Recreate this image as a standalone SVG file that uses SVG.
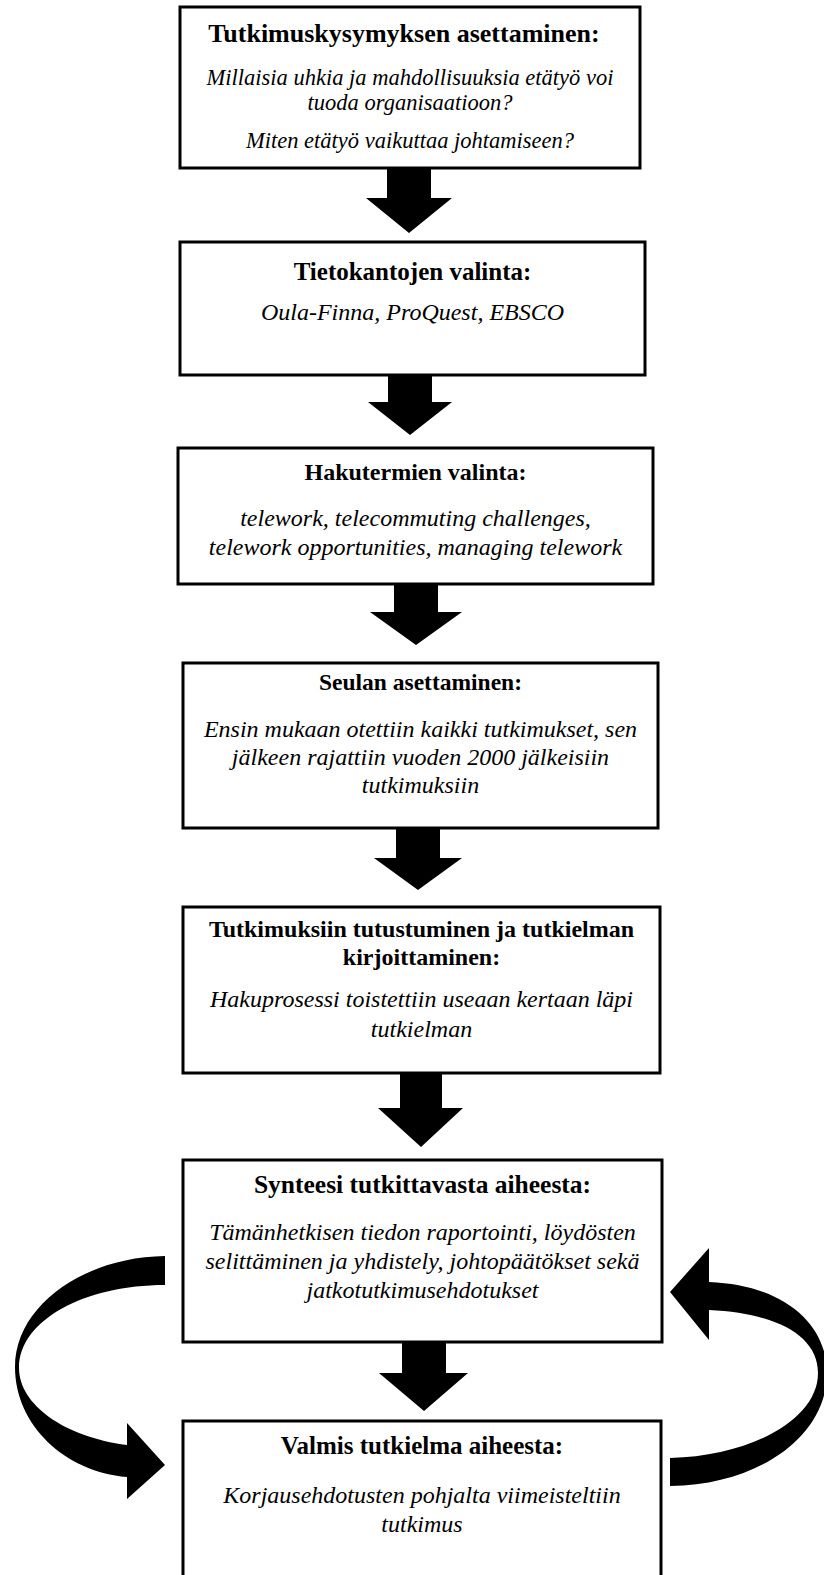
<svg xmlns="http://www.w3.org/2000/svg" width="824" height="1575" viewBox="0 0 824 1575">
<style>
.box{fill:#fff;stroke:#000;stroke-width:3}
.t{font-family:"Liberation Serif","Times New Roman",serif;font-weight:bold;font-size:25px;text-anchor:middle;fill:#000}
.i{font-family:"Liberation Serif","Times New Roman",serif;font-style:italic;font-size:24px;text-anchor:middle;fill:#000}
.s{font-size:22.5px}
.arr{fill:#000}
</style>
<rect width="824" height="1575" fill="#fff"/>
<g id="connectors">
<path class="arr" d="M387,168 H431 V198 H452 L409,233 L366,198 H387 Z"/>
<path class="arr" d="M388,375 H432 V402 H452 L410,435 L368,402 H388 Z"/>
<path class="arr" d="M394,584 H438 V612 H462 L416,645 L370,612 H394 Z"/>
<path class="arr" d="M396,828 H440 V858 H462 L418,890 L374,858 H396 Z"/>
<path class="arr" d="M400,1073 H442 V1108 H463 L421,1147 L378,1108 H400 Z"/>
<path class="arr" d="M402,1342 H446 V1373 H468 L424,1411 L379,1373 H402 Z"/>
<path class="arr" d="M165,1256 C85,1257 15,1305 15,1367 C15,1425 65,1472 127,1477 L127,1499 L165,1465 L127,1423 L127,1445 C65,1437 19,1405 19,1368 C19,1320 85,1285 165,1285 Z"/>
<path class="arr" d="M670,1458 C750,1456 818,1420 818,1373 C818,1335 775,1313 709,1310 L709,1340 L670,1292 L709,1248 L709,1282 C785,1285 827,1325 827,1373 C827,1435 760,1485 670,1486 Z"/>
</g>
<g id="n1">
<rect class="box" x="180" y="7" width="460" height="161"/>
<text class="t" x="404" y="42" style="font-size:26px">Tutkimuskysymyksen asettaminen:</text>
<text class="i s" x="410" y="84.5">Millaisia uhkia ja mahdollisuuksia etätyö voi</text>
<text class="i s" x="410" y="109.5">tuoda organisaatioon?</text>
<text class="i s" x="410" y="148">Miten etätyö vaikuttaa johtamiseen?</text>
</g>
<g id="n2">
<rect class="box" x="180" y="242" width="465" height="133"/>
<text class="t" x="412.5" y="280">Tietokantojen valinta:</text>
<text class="i" x="412.5" y="320">Oula-Finna, ProQuest, EBSCO</text>
</g>
<g id="n3">
<rect class="box" x="178" y="448" width="475" height="136"/>
<text class="t" x="415.5" y="480" style="font-size:24px">Hakutermien valinta:</text>
<text class="i" x="415.5" y="526">telework, telecommuting challenges,</text>
<text class="i" x="415.5" y="555">telework opportunities, managing telework</text>
</g>
<g id="n4">
<rect class="box" x="183" y="663" width="475" height="165"/>
<text class="t" x="420.5" y="690" style="font-size:23.5px">Seulan asettaminen:</text>
<text class="i" x="420.5" y="737">Ensin mukaan otettiin kaikki tutkimukset, sen</text>
<text class="i" x="420.5" y="765">jälkeen rajattiin vuoden 2000 jälkeisiin</text>
<text class="i" x="420.5" y="793">tutkimuksiin</text>
</g>
<g id="n5">
<rect class="box" x="183" y="907" width="477" height="166"/>
<text class="t" x="421.5" y="937" style="font-size:24px">Tutkimuksiin tutustuminen ja tutkielman</text>
<text class="t" x="421.5" y="965" style="font-size:24px">kirjoittaminen:</text>
<text class="i" x="421.5" y="1007">Hakuprosessi toistettiin useaan kertaan läpi</text>
<text class="i" x="421.5" y="1037">tutkielman</text>
</g>
<g id="n6">
<rect class="box" x="183" y="1160" width="479" height="182"/>
<text class="t" x="422.5" y="1193" style="font-size:25.5px">Synteesi tutkittavasta aiheesta:</text>
<text class="i" x="422.5" y="1240">Tämänhetkisen tiedon raportointi, löydösten</text>
<text class="i" x="422.5" y="1269">selittäminen ja yhdistely, johtopäätökset sekä</text>
<text class="i" x="422.5" y="1298">jatkotutkimusehdotukset</text>
</g>
<g id="n7">
<rect class="box" x="183" y="1421" width="478" height="170"/>
<text class="t" x="422" y="1454">Valmis tutkielma aiheesta:</text>
<text class="i" x="422" y="1503">Korjausehdotusten pohjalta viimeisteltiin</text>
<text class="i" x="422" y="1532">tutkimus</text>
</g>
</svg>
